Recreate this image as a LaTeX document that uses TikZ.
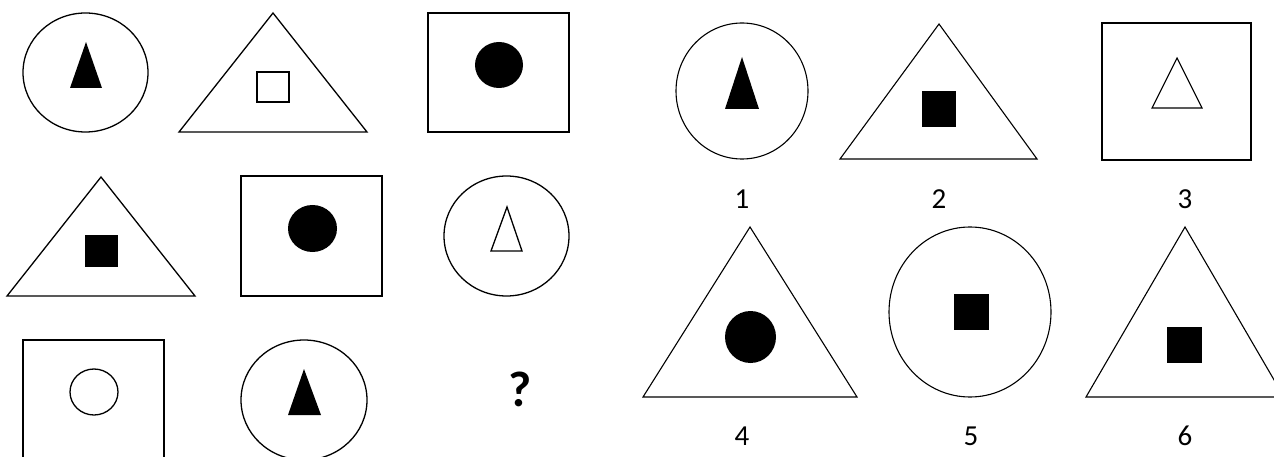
\documentclass[tikz,border=0pt]{standalone}
\usepackage{fontspec}
\setmainfont{Carlito}
\begin{document}
\begin{tikzpicture}[x=1pt,y=-1pt,
  outl/.style={draw=black,line width=1.3pt,fill=white,line join=miter},
  thin/.style={draw=black,line width=1.1pt,fill=white},
  solid/.style={fill=black,draw=none},
  lbl/.style={font=\fontsize{29}{33}\selectfont,inner sep=0pt,anchor=center}]
\useasboundingbox (0,0) rectangle (1274,457);
\fill[white] (0,0) rectangle (1274,457);
% ---- left grid ----
% A
\draw[outl] (85.5,72.5) ellipse [x radius=62.5,y radius=59.5];
\fill[solid] (86,42) -- (70,88) -- (102,88) -- cycle;
% B
\draw[outl] (273,13) -- (179,132) -- (367,132) -- cycle;
\draw[outl] (257,72) rectangle (289,102);
% C
\draw[outl] (428,13) rectangle (569,132);
\fill[solid] (499,65) ellipse [x radius=24,y radius=23];
% D
\draw[outl] (101,177) -- (7,296) -- (195,296) -- cycle;
\fill[solid] (85,235) rectangle (118,267);
% E
\draw[outl] (241,176) rectangle (382,296);
\fill[solid] (312.5,228.5) ellipse [x radius=24.5,y radius=23.5];
% F
\draw[outl] (506.5,236) ellipse [x radius=62.5,y radius=60];
\draw[outl] (507,207) -- (491,251) -- (522,251) -- cycle;
% G
\draw[outl] (23,340) rectangle (164,480);
\draw[outl] (94,392) ellipse [x radius=24,y radius=23];
% H
\draw[outl] (304,400) ellipse [x radius=63,y radius=60];
\fill[solid] (304,369) -- (288,415) -- (321,415) -- cycle;
% question mark
\node[font=\bfseries\fontsize{50}{54}\selectfont,inner sep=0pt] (q) at (520,389) {?};
% ---- right options ----
% 1
\draw[thin] (742,91) ellipse [x radius=66,y radius=68];
\fill[solid] (742,57) -- (725,109) -- (759,109) -- cycle;
% 2
\draw[thin] (939,24) -- (840,159) -- (1037,159) -- cycle;
\fill[solid] (922,91) rectangle (956,127);
% 3
\draw[thin] (1102,23) rectangle (1251,160);
\draw[thin] (1177,58) -- (1152,108) -- (1202,108) -- cycle;
\node[lbl] (l1) at (742,199) {1};
\node[lbl] (l2) at (939,199) {2};
\node[lbl] (l3) at (1185,199) {3};
% 4
\draw[thin] (750,227) -- (643,397) -- (857,397) -- cycle;
\fill[solid] (750.5,337) ellipse [x radius=25.5,y radius=26];
% 5
\draw[thin] (970,312) ellipse [x radius=81,y radius=85];
\fill[solid] (954,294) rectangle (989,330);
% 6
\draw[thin] (1185,227) -- (1086,397) -- (1284,397) -- cycle;
\fill[solid] (1167,327) rectangle (1202,363);
\node[lbl] (l4) at (742,436) {4};
\node[lbl] (l5) at (971,436) {5};
\node[lbl] (l6) at (1185,436) {6};
\end{tikzpicture}
\end{document}
